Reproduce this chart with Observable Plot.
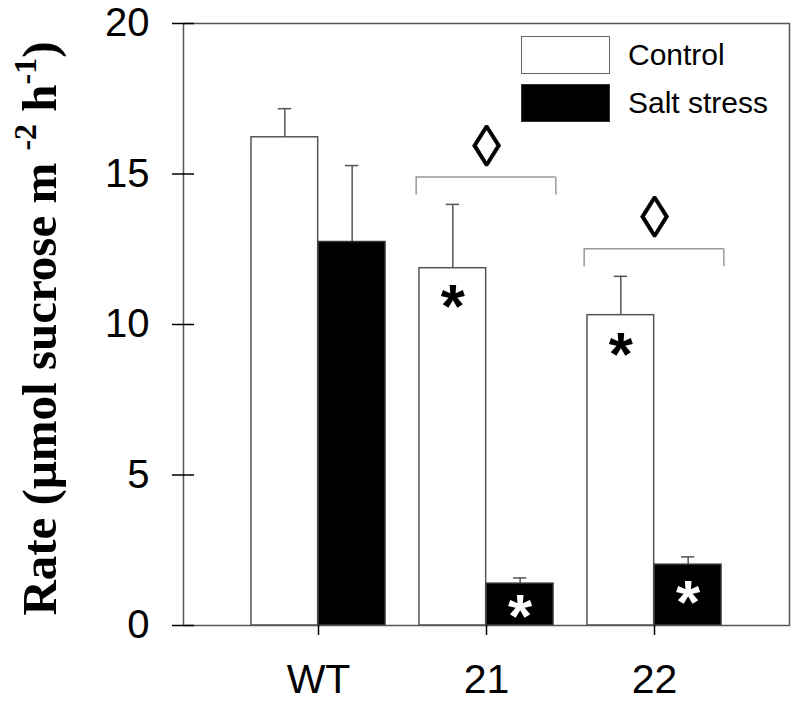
<!DOCTYPE html>
<html><head><meta charset="utf-8">
<script src="https://cdn.jsdelivr.net/npm/d3@7"></script>
<script src="https://cdn.jsdelivr.net/npm/@observablehq/plot@0.6"></script>
<style>
body{margin:0;background:#fff;}
#wrap{position:relative;width:794px;height:702px;}
.sw{position:absolute;box-sizing:border-box;}
.lt{position:absolute;font-family:"Liberation Sans",Arial,sans-serif;font-size:30px;line-height:30px;color:#000;white-space:nowrap;}
</style></head><body><div id="wrap"></div>
<script>
// ---- data ----
const groups = ["WT", "21", "22"];
const seriesNames = ["Control", "Salt stress"];
const controlMean = [16.22, 11.87, 10.31];
const controlErr  = [0.95, 2.12, 1.29];
const saltMean    = [12.74, 1.39, 2.02];
const saltErr     = [2.54, 0.19, 0.26];
const yTicks = [0, 5, 10, 15, 20];
// significance annotations (value positions)
const controlStarY = [null, 10.86, 9.28];
const saltStarY    = [null, 0.58, 1.03];
const diamondY     = [null, 15.89, 13.51];
const bracketTop   = [null, 14.9, 12.52];
const bracketEnd   = [null, 14.3, 11.92];
const yLabel = "Rate (μmol sucrose m-2 h-1)";

// ---- tables ----
const control = groups.map((g, i) => ({group: g, value: controlMean[i], err: controlErr[i]}));
const salt = groups.map((g, i) => ({group: g, value: saltMean[i], err: saltErr[i]}));
const brackets = groups.map((g, i) => ({group: g, top: bracketTop[i], end: bracketEnd[i], d: diamondY[i]})).filter(d => d.top != null);
const cStars = groups.map((g, i) => ({group: g, y: controlStarY[i]})).filter(d => d.y != null);
const sStars = groups.map((g, i) => ({group: g, y: saltStarY[i]})).filter(d => d.y != null);

// ---- layout ----
const W = 794, H = 702, mL = 183, mR = 5, mT = 23, mB = 77;
const padIn = 0.2, padOut = 0.4;
const step = (W - mL - mR) / (groups.length - padIn + 2 * padOut);
const bw = step * (1 - padIn);
const half = bw / 2;
const cap = 7;
const sans = "Liberation Sans, Arial, sans-serif";

const chart = Plot.plot({
  width: W, height: H,
  marginLeft: mL, marginRight: mR, marginTop: mT, marginBottom: mB,
  style: {fontFamily: sans, background: "white", color: "black"},
  x: {type: "band", domain: groups, paddingInner: padIn, paddingOuter: padOut, label: null},
  y: {domain: [0, 20], label: null},
  marks: [
    // error bars
    Plot.ruleX(control, {x: "group", y1: "value", y2: d => d.value + d.err, dx: -half / 2, stroke: "#555", strokeWidth: 1.5}),
    Plot.tickY(control, {x: "group", y: d => d.value + d.err, insetLeft: half / 2 - cap, insetRight: bw - half / 2 - cap, stroke: "#555", strokeWidth: 1.5}),
    Plot.ruleX(salt, {x: "group", y1: "value", y2: d => d.value + d.err, dx: half / 2, stroke: "#555", strokeWidth: 1.5}),
    Plot.tickY(salt, {x: "group", y: d => d.value + d.err, insetLeft: half + half / 2 - cap, insetRight: half / 2 - cap, stroke: "#555", strokeWidth: 1.5}),
    // bars
    Plot.barY(control, {x: "group", y: "value", insetRight: half, fill: "white", stroke: "#555", strokeWidth: 1.5}),
    Plot.barY(salt, {x: "group", y: "value", insetLeft: half, fill: "black", stroke: "#333", strokeWidth: 1.5}),
    // brackets + diamonds
    Plot.ruleY(brackets, {x1: "group", x2: "group", y: "top", insetLeft: -3, insetRight: -2, stroke: "#999", strokeWidth: 1.5}),
    Plot.ruleX(brackets, {x: "group", y1: "end", y2: "top", dx: -half - 3, stroke: "#999", strokeWidth: 1.5}),
    Plot.ruleX(brackets, {x: "group", y1: "end", y2: "top", dx: half + 2, stroke: "#999", strokeWidth: 1.5}),
    Plot.text(brackets, {x: "group", y: "d", text: () => "◊", fontSize: 58, fill: "black", stroke: "black", strokeWidth: 0.6, lineAnchor: "middle"}),
    // asterisks
    Plot.text(cStars, {x: "group", y: "y", text: () => "*", dx: -half / 2, dy: 9, fontSize: 62, fontWeight: "bold", fill: "black", lineAnchor: "middle"}),
    Plot.text(sStars, {x: "group", y: "y", text: () => "*", dx: half / 2, dy: 9, fontSize: 62, fontWeight: "bold", fill: "white", lineAnchor: "middle"}),
    // frame & axes
    Plot.frame({stroke: "#555", strokeWidth: 1.5}),
    Plot.tickY(yTicks, {y: d => d, insetRight: (W - mL - mR) - 11, stroke: "black", strokeWidth: 1.5}),
    Plot.axisY({ticks: yTicks, tickSize: 11, tickPadding: 23, fontSize: 40, label: null, tickFormat: d => String(d), strokeWidth: 1.5}),
    Plot.axisX({tickSize: 10, tickPadding: 28, fontSize: 41, label: null, strokeWidth: 1.5}),
    // y label
    Plot.text([yLabel], {frameAnchor: "left", rotate: -90, textAnchor: "middle", lineAnchor: "bottom", dx: -128, dy: 4, fontSize: 49, fontWeight: "bold", fontFamily: "Liberation Serif, Times New Roman, serif", fill: "black"})
  ]
});

// superscripts in y label
d3.select(chart).selectAll("text").filter(function() { return this.textContent === yLabel; }).each(function() {
  const t = d3.select(this);
  t.text(null);
  t.append("tspan").text("Rate (μmol sucrose m ");
  t.append("tspan").attr("font-size", "32").attr("dy", "-20").text("-2");
  t.append("tspan").attr("dy", "20").text(" h");
  t.append("tspan").attr("font-size", "32").attr("dy", "-20").text("-1");
  t.append("tspan").attr("dy", "20").text(")");
});

const wrap = document.getElementById("wrap");
wrap.appendChild(chart);

// legend inside plot area
const legend = [
  {name: seriesNames[0], fill: "white", border: "#666", top: 36},
  {name: seriesNames[1], fill: "black", border: "#333", top: 84}
];
for (const l of legend) {
  const s = document.createElement("div");
  s.className = "sw";
  Object.assign(s.style, {left: "521px", top: l.top + "px", width: "89px", height: "38px", background: l.fill, border: "1.5px solid " + l.border});
  wrap.appendChild(s);
  const t = document.createElement("div");
  t.className = "lt";
  t.textContent = l.name;
  Object.assign(t.style, {left: "628px", top: (l.top + 4) + "px"});
  wrap.appendChild(t);
}
</script>
</body></html>
